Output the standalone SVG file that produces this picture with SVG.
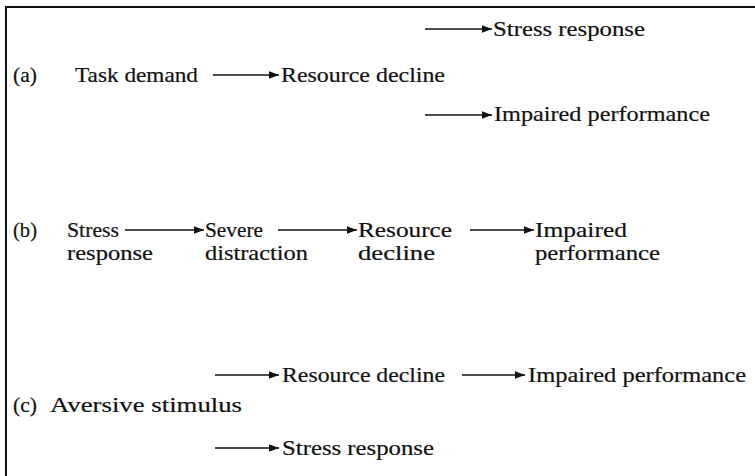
<svg xmlns="http://www.w3.org/2000/svg" width="755" height="476" viewBox="0 0 755 476">
<style>
text{font-family:"Liberation Serif","DejaVu Serif",serif;font-size:21px;fill:#111;stroke:#111;stroke-width:0.2}
.ln{stroke:#111;stroke-width:1.5;fill:none}
.frame{stroke:#111;stroke-width:2;fill:none}
</style>
<defs>
<marker id="ah" markerUnits="userSpaceOnUse" markerWidth="10" markerHeight="8" refX="10" refY="4" orient="auto">
<path d="M0,0.2 L10,4 L0,7.8 Z" fill="#111"/>
</marker>
</defs>
<rect width="755" height="476" fill="#fff"/>
<path class="frame" d="M6,476 V7 H755"/>
<g id="connectors">
<line class="ln" x1="213" y1="75" x2="279" y2="75" marker-end="url(#ah)"/>
<line class="ln" x1="425" y1="29" x2="492" y2="29" marker-end="url(#ah)"/>
<line class="ln" x1="425" y1="115" x2="492" y2="115" marker-end="url(#ah)"/>
<line class="ln" x1="125" y1="230" x2="204" y2="230" marker-end="url(#ah)"/>
<line class="ln" x1="278" y1="230" x2="357" y2="230" marker-end="url(#ah)"/>
<line class="ln" x1="470" y1="230" x2="534" y2="230" marker-end="url(#ah)"/>
<line class="ln" x1="215" y1="375" x2="279" y2="375" marker-end="url(#ah)"/>
<line class="ln" x1="462" y1="375" x2="525" y2="375" marker-end="url(#ah)"/>
<line class="ln" x1="215" y1="448" x2="279" y2="448" marker-end="url(#ah)"/>
</g>
<g id="label-a"><text x="13" y="82" textLength="24" lengthAdjust="spacingAndGlyphs">(a)</text></g>
<g id="a-task"><text x="75" y="82" textLength="123" lengthAdjust="spacingAndGlyphs">Task demand</text></g>
<g id="a-resource"><text x="281" y="82" textLength="164" lengthAdjust="spacingAndGlyphs">Resource decline</text></g>
<g id="a-stress"><text x="493" y="36" textLength="152" lengthAdjust="spacingAndGlyphs">Stress response</text></g>
<g id="a-impaired"><text x="494" y="121" textLength="216" lengthAdjust="spacingAndGlyphs">Impaired performance</text></g>

<g id="label-b"><text x="13" y="237" textLength="24" lengthAdjust="spacingAndGlyphs">(b)</text></g>
<g id="b-stress"><text x="67" y="237" textLength="52" lengthAdjust="spacingAndGlyphs">Stress</text><text x="67" y="260" textLength="86" lengthAdjust="spacingAndGlyphs">response</text></g>
<g id="b-distraction"><text x="205" y="237" textLength="58" lengthAdjust="spacingAndGlyphs">Severe</text><text x="205" y="260" textLength="103" lengthAdjust="spacingAndGlyphs">distraction</text></g>
<g id="b-resource"><text x="358" y="237" textLength="94" lengthAdjust="spacingAndGlyphs">Resource</text><text x="358" y="260" textLength="77" lengthAdjust="spacingAndGlyphs">decline</text></g>
<g id="b-impaired"><text x="535" y="237" textLength="92" lengthAdjust="spacingAndGlyphs">Impaired</text><text x="535" y="260" textLength="125" lengthAdjust="spacingAndGlyphs">performance</text></g>

<g id="label-c"><text x="13" y="412" textLength="24" lengthAdjust="spacingAndGlyphs">(c)</text></g>
<g id="c-aversive"><text x="50" y="412" textLength="192" lengthAdjust="spacingAndGlyphs">Aversive stimulus</text></g>
<g id="c-resource"><text x="282" y="382" textLength="163" lengthAdjust="spacingAndGlyphs">Resource decline</text></g>
<g id="c-impaired"><text x="528" y="382" textLength="218" lengthAdjust="spacingAndGlyphs">Impaired performance</text></g>
<g id="c-stress"><text x="282" y="455" textLength="152" lengthAdjust="spacingAndGlyphs">Stress response</text></g>
</svg>
